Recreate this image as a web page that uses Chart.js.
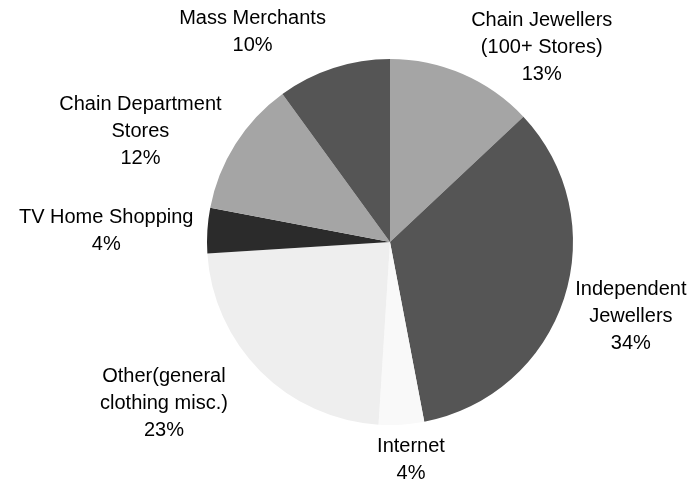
<!DOCTYPE html>
<html lang="en">
<head>
    <meta charset="UTF-8">
    <title>Jewellery Sales by Channel</title>
    <script src="https://cdn.jsdelivr.net/npm/chart.js"></script>
    <style>
        body { margin: 0; background: white; }
        canvas { display: block; }
    </style>
</head>
<body>
    <canvas id="channelChart" width="695" height="487"></canvas>
    <script>
        // Share of sales by retail channel, clockwise from 12 o'clock
        const channels = [
            ['Chain Jewellers', '(100+ Stores)'],
            ['Independent', 'Jewellers'],
            ['Internet'],
            ['Other(general', 'clothing misc.)'],
            ['TV Home Shopping'],
            ['Chain Department', 'Stores'],
            ['Mass Merchants']
        ];
        const shares = [13, 34, 4, 23, 4, 12, 10];
        const sliceColors = ['#a5a5a5', '#555555', '#f9f9f9', '#eeeeee', '#2b2b2b', '#a5a5a5', '#555555'];

        // label placement: angle shift (deg) from slice middle, and gap past the rim (px)
        const labelShift = [14.5, -0.9, -1.9, 9.4, -1.4, -8.5, -15.2];
        const labelGap = [64, 69, 36, 95, 101, 90, 68];

        const outsideLabels = {
            id: 'outsideLabels',
            afterDatasetsDraw(chart) {
                const ctx = chart.ctx;
                const arcs = chart.getDatasetMeta(0).data;
                ctx.save();
                ctx.font = '20px "Liberation Sans", Arial, sans-serif';
                ctx.fillStyle = '#000';
                ctx.textAlign = 'center';
                ctx.textBaseline = 'middle';
                const lineH = 27;
                arcs.forEach((arc, i) => {
                    const p = arc.getProps(['x', 'y', 'startAngle', 'endAngle', 'outerRadius'], true);
                    const a = (p.startAngle + p.endAngle) / 2 + labelShift[i] * Math.PI / 180;
                    const d = p.outerRadius + labelGap[i];
                    const cx = p.x + Math.cos(a) * d;
                    const cy = p.y + Math.sin(a) * d;
                    const lines = channels[i].concat([shares[i] + '%']);
                    const top = cy - (lines.length - 1) * lineH / 2;
                    lines.forEach((t, j) => ctx.fillText(t, cx, top + j * lineH));
                });
                ctx.restore();
            }
        };

        new Chart(document.getElementById('channelChart'), {
            type: 'pie',
            data: {
                labels: channels.map(c => c.join(' ')),
                datasets: [{
                    data: shares,
                    backgroundColor: sliceColors,
                    borderWidth: 0
                }]
            },
            options: {
                responsive: false,
                animation: false,
                layout: { padding: { left: 207, top: 59, right: 122, bottom: 62 } },
                plugins: {
                    legend: { display: false },
                    tooltip: { enabled: false }
                }
            },
            plugins: [outsideLabels]
        });
    </script>
</body>
</html>
